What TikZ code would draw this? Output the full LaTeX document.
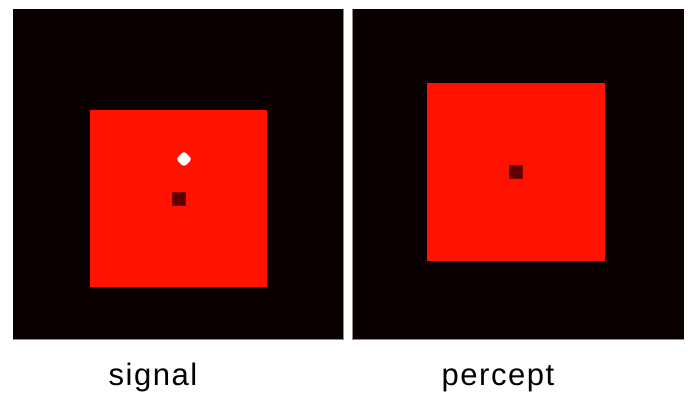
\documentclass[tikz,border=0pt]{standalone}
\usepackage{fontspec}
\setmainfont{Liberation Sans}
\newfontfamily\labelfont[LetterSpace=5]{Liberation Sans}
\definecolor{panelbk}{HTML}{0A0000}
\definecolor{redsq}{HTML}{FF1200}
\definecolor{darksq}{HTML}{5E0000}
\definecolor{edgegray}{HTML}{8C8C8C}
\begin{document}
\begin{tikzpicture}[x=1pt,y=-1pt,
  panel/.style={fill=panelbk,draw=none},
  redbox/.style={fill=redsq,draw=none},
  dot/.style={fill=darksq,draw=darksq!80!redsq,line width=0.6pt},
  lbl/.style={font=\labelfont\fontsize{31}{34}\selectfont,anchor=base,inner sep=0pt}]
\useasboundingbox (0,0) rectangle (688,402);
\fill[white] (0,0) rectangle (688,402);
% left panel
\fill[panel] (13,9) rectangle (344,340);
\draw[edgegray,line width=1pt] (343.5,9) -- (343.5,339.5) -- (13,339.5);
\fill[redbox] (90,110) rectangle (267,287);
\filldraw[dot] (172.5,192.5) rectangle (185.5,205.5);
\fill[white,rounded corners=3pt] (184,151) -- (192,159) -- (184,167) -- (176,159) -- cycle;
% right panel
\fill[panel] (352,9) rectangle (684,340);
\draw[edgegray,line width=1pt] (352.5,9) -- (352.5,339.5) -- (684,339.5);
\fill[redbox] (427,83) rectangle (605,261);
\filldraw[dot] (509.5,165.5) rectangle (522.5,178.5);
% labels
\node[lbl] (signal) at (153,385) {signal};
\node[lbl] (percept) at (498,385) {percept};
\end{tikzpicture}
\end{document}
